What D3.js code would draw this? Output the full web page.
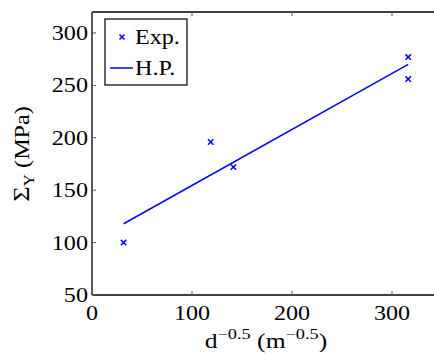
<!DOCTYPE html>
<html><head><meta charset="utf-8">
<script src="https://cdn.jsdelivr.net/npm/d3@7"></script>
<style>body{margin:0;background:#fff}svg{display:block}</style>
</head><body>
<script>
const expX = [31.6, 118.7, 141.4, 316.2, 316.2];
const expY = [100, 196, 172, 277, 256];
const hpX = [31.6, 316.2];
const hpY = [118, 270];
const xTicks = [0, 100, 200, 300];
const yTicks = [50, 100, 150, 200, 250, 300];
const legendLabels = ["Exp.", "H.P."];

const W = 434, H = 354;
const m = {l: 92, t: 12, r: 442, b: 295};
const SX = 1.15, FS = 21;
const blue = "#0000ff";
const FONT = "Liberation Serif";

const svg = d3.select("body").append("svg").attr("width", W).attr("height", H)
  .attr("font-family", FONT);
const x = d3.scaleLinear().domain([0, 350]).range([m.l, m.r]);
const y = d3.scaleLinear().domain([50, 320]).range([m.b, m.t]);

function stext(g, px, py, anchor, str, size, sx) {
  return g.append("g").attr("transform", `translate(${px},${py}) scale(${sx||SX},1)`)
    .append("text").attr("font-family", FONT).attr("text-anchor", anchor)
    .attr("font-size", size||FS).attr("fill", "#000").text(str);
}

// axes frame
const fr = svg.append("g").attr("stroke", "#000").attr("stroke-width", 1.3);
fr.append("line").attr("x1", m.l).attr("x2", m.r).attr("y1", m.t).attr("y2", m.t);
fr.append("line").attr("x1", m.l).attr("x2", m.r).attr("y1", m.b).attr("y2", m.b);
fr.append("line").attr("x1", m.l).attr("x2", m.l).attr("y1", m.t).attr("y2", m.b);

const tk = svg.append("g").attr("stroke", "#555").attr("stroke-width", 1);
xTicks.forEach(v => {
  tk.append("line").attr("x1", x(v)).attr("x2", x(v)).attr("y1", m.b).attr("y2", m.b - 4);
  tk.append("line").attr("x1", x(v)).attr("x2", x(v)).attr("y1", m.t).attr("y2", m.t + 4);
});
yTicks.forEach(v => {
  tk.append("line").attr("x1", m.l).attr("x2", m.l + 4).attr("y1", y(v)).attr("y2", y(v));
});

const lab = svg.append("g");
xTicks.forEach(v => stext(lab, x(v), m.b + 25, "middle", String(v)));
yTicks.forEach(v => stext(lab, m.l - 4, y(v) + 7, "end", String(v)));

// x label
const xl = svg.append("g").attr("transform", `translate(266,348) scale(1.22,1)`)
  .append("text").attr("font-family", FONT).attr("text-anchor", "middle").attr("font-size", FS);
xl.append("tspan").text("d");
xl.append("tspan").attr("dy", -9).attr("font-size", 15).text("\u22120.5");
xl.append("tspan").attr("dy", 9).text(" (m");
xl.append("tspan").attr("dy", -9).attr("font-size", 15).text("\u22120.5");
xl.append("tspan").attr("dy", 9).text(")");

// y label
const yl = svg.append("g").attr("transform", `translate(29,154) scale(1,${SX}) rotate(-90)`)
  .append("text").attr("font-family", FONT).attr("text-anchor", "middle").attr("font-size", FS);
yl.append("tspan").attr("font-size", 23).text("\u03A3");
yl.append("tspan").attr("dy", 5).attr("font-size", 15).text("Y");
yl.append("tspan").attr("dy", -5).text(" (MPa)");

// line
svg.append("path").datum(hpX.map((v, i) => [v, hpY[i]]))
  .attr("d", d3.line().x(d => x(d[0])).y(d => y(d[1])))
  .attr("fill", "none").attr("stroke", blue).attr("stroke-width", 1.5);

// markers
const mk = svg.append("g").attr("stroke", blue).attr("stroke-width", 1.5);
function cross(g, cx, cy, s) {
  g.append("line").attr("x1", cx - s).attr("x2", cx + s).attr("y1", cy - s).attr("y2", cy + s);
  g.append("line").attr("x1", cx - s).attr("x2", cx + s).attr("y1", cy + s).attr("y2", cy - s);
}
expX.forEach((v, i) => cross(mk, x(v), y(expY[i]), 2.7));

// legend
const lg = svg.append("g");
lg.append("rect").attr("x", 105).attr("y", 19).attr("width", 82).attr("height", 66)
  .attr("fill", "#fff").attr("stroke", "#000").attr("stroke-width", 1.2);
cross(lg.append("g").attr("stroke", blue).attr("stroke-width", 1.5), 122, 37, 2.5);
lg.append("line").attr("x1", 110).attr("x2", 133).attr("y1", 68).attr("y2", 68).attr("stroke", blue).attr("stroke-width", 1.5);
stext(lg, 135, 44, "start", legendLabels[0]);
stext(lg, 135, 75, "start", legendLabels[1]);
</script>
</body></html>
